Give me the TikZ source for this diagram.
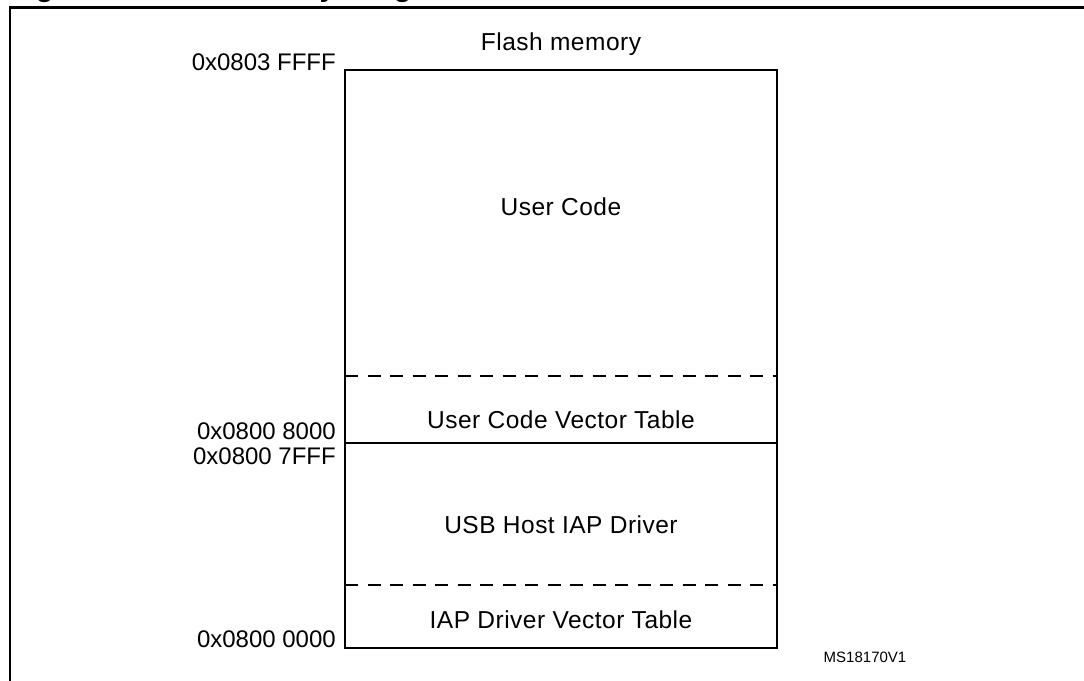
\documentclass[tikz,border=0pt]{standalone}
\usepackage{fontspec}
\setmainfont{Liberation Sans}
\begin{document}
\begin{tikzpicture}[x=1pt,y=-1pt,
  lbl/.style={font=\fontsize{24.5}{27}\selectfont\addfontfeatures{LetterSpace=2}, inner sep=0pt},
  addr/.style={font=\fontsize{24}{26}\selectfont, inner sep=0pt, anchor=base east},
  boxline/.style={line width=2pt},
  sepdash/.style={line width=2pt, dash pattern=on 13pt off 9.5pt},
  framel/.style={line width=2.2pt}]
\clip (0,0) rectangle (1084,680);
\fill[white] (0,0) rectangle (1084,680);
% clipped caption (only descenders visible)
\node[font=\fontsize{29}{32}\selectfont\bfseries, inner sep=0pt, anchor=base west] (cap) at (10,-3) {Figure 2.\ Flash memory usage};
% outer frame
\draw[framel] (10,690) -- (10,7.5) -- (1090,7.5);
% memory block
\coordinate (tl) at (345,70);
\coordinate (br) at (777,648);
\draw[boxline] (tl) rectangle (br);
\coordinate (d1l) at (345,376); \coordinate (d1r) at (777,376);
\coordinate (sl) at (345,443);  \coordinate (sr) at (777,443);
\coordinate (d2l) at (345,585); \coordinate (d2r) at (777,585);
\draw[sepdash] (d1l) -- (d1r);
\draw[boxline] (sl) -- (sr);
\draw[sepdash] (d2l) -- (d2r);
% texts
\node[lbl] (title) at (561,44) {Flash memory};
\node[lbl] (uc) at (561,207) {User Code};
\node[lbl] (ucvt) at (561,420) {User Code Vector Table};
\node[lbl] (usb) at (561,525) {USB Host IAP Driver};
\node[lbl] (iapvt) at (561,620) {IAP Driver Vector Table};
% addresses
\node[addr] (a1) at (336,70) {0x0803 FFFF};
\node[addr] (a2) at (336,439) {0x0800 8000};
\node[addr] (a3) at (336,464) {0x0800 7FFF};
\node[addr] (a4) at (336,647) {0x0800 0000};
\node[font=\fontsize{15}{17}\selectfont, inner sep=0pt] (ms) at (865,657) {MS18170V1};
\end{tikzpicture}
\end{document}
